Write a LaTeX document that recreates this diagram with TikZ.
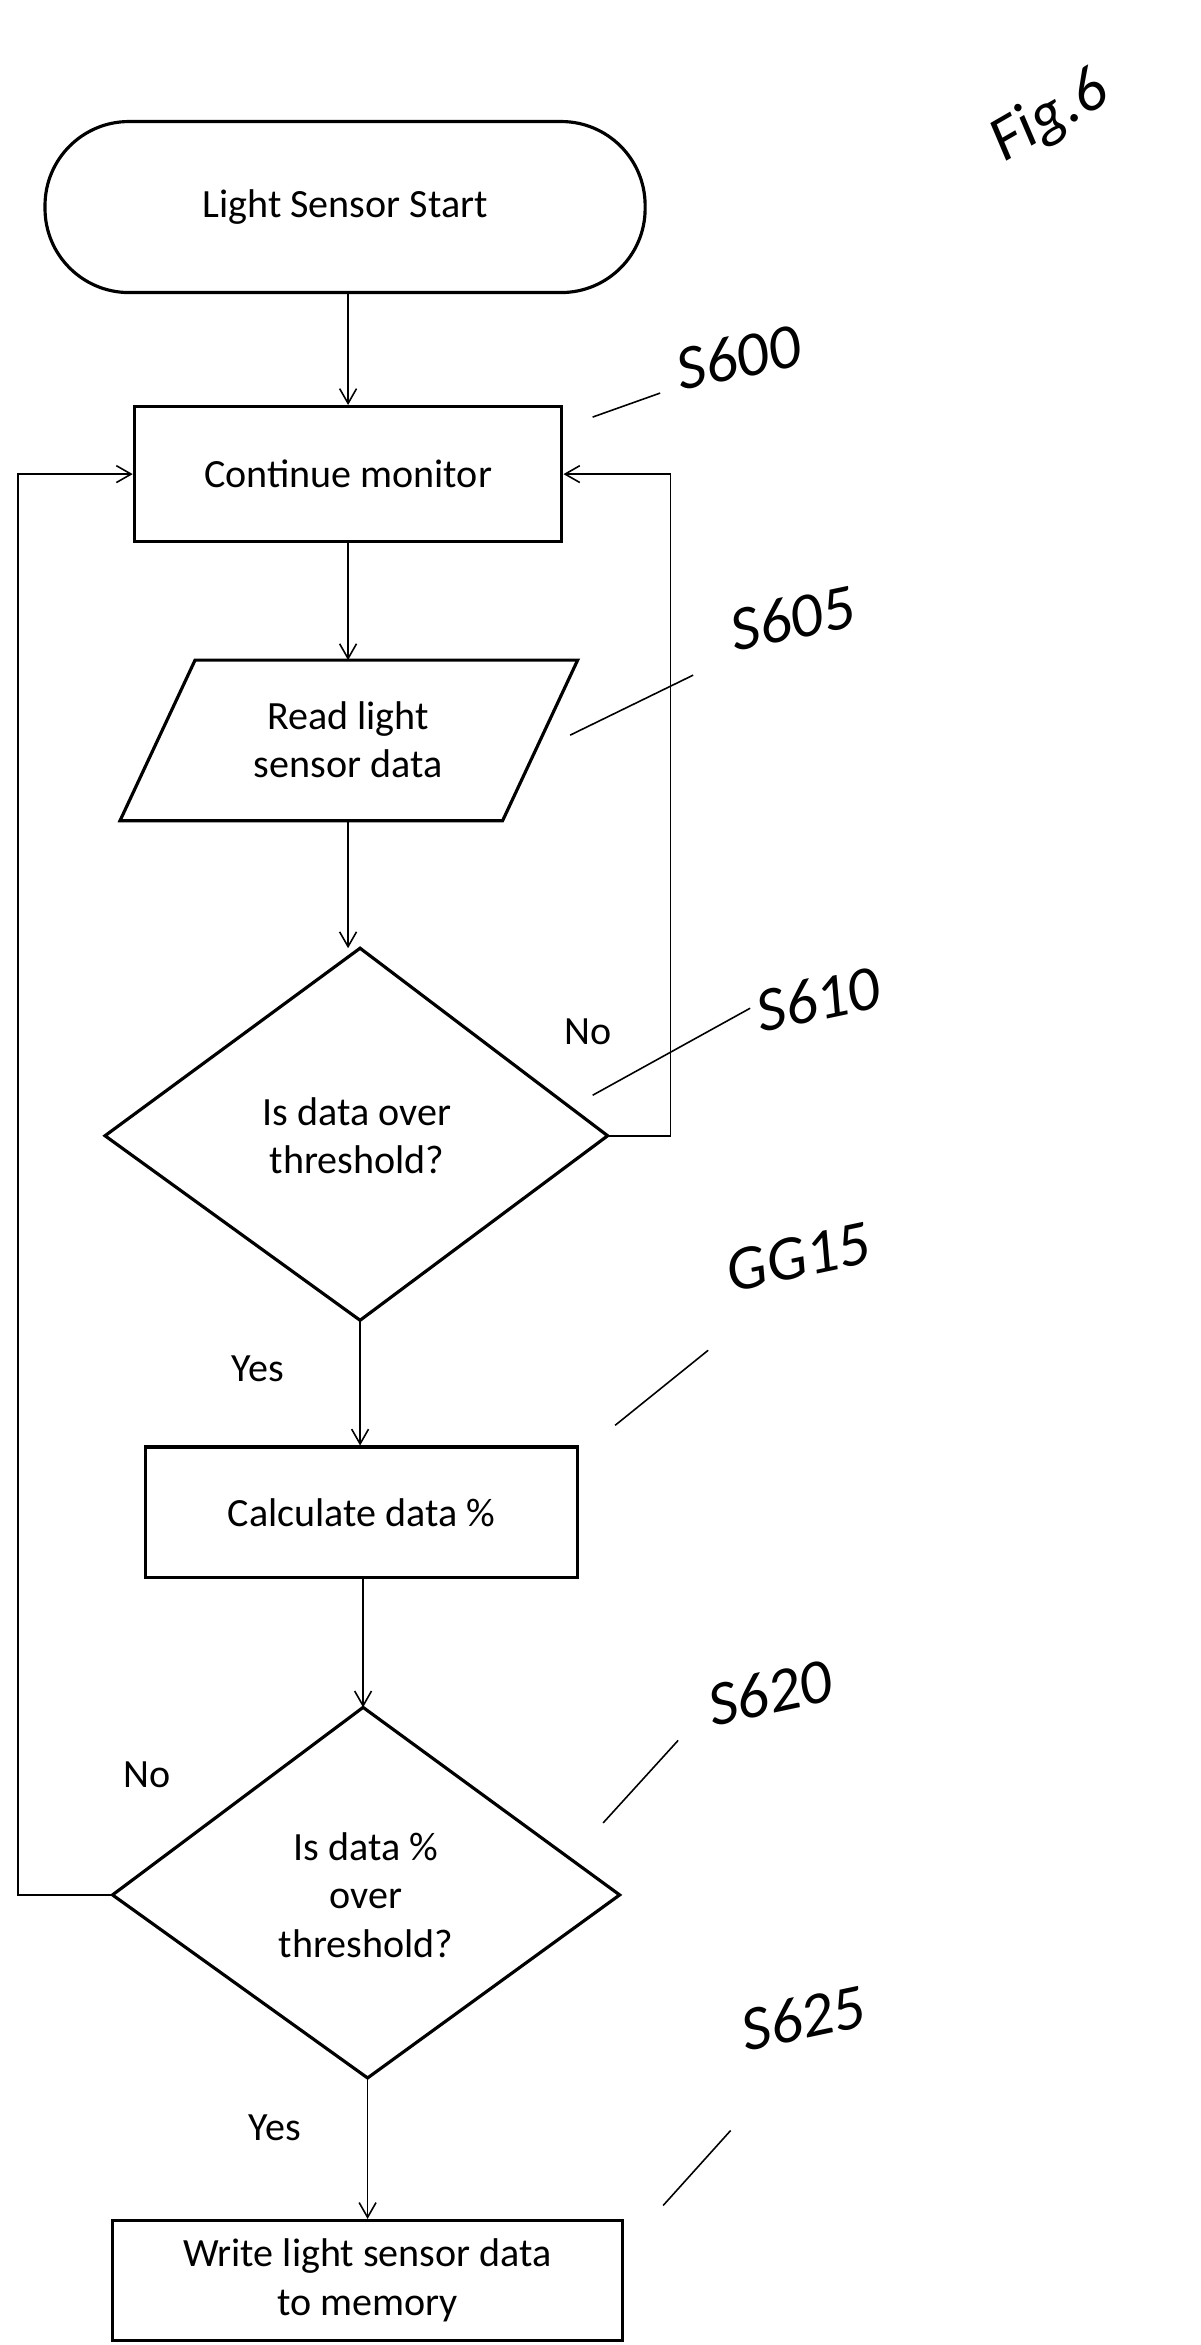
\documentclass[tikz,border=0pt]{standalone}
\usepackage{fontspec}
\setmainfont{Carlito}
\usetikzlibrary{shapes.geometric,arrows.meta}
\begin{document}
\begin{tikzpicture}[x=0.05cm,y=-0.05cm,
  txt/.style={font=\fontsize{38}{46}\selectfont,align=center},
  box/.style={draw,line width=3pt,txt},
  shp/.style={line width=3pt},
  arr/.style={-{Straight Barb[length=14pt,width=16pt]},line width=1.5pt},
  hand/.style={font=\fontsize{60}{60}\selectfont\itshape,rotate=12},
  lead/.style={line width=1.5pt}]
\useasboundingbox (0,0) rectangle (800,1563);
\node[draw,line width=3pt,rounded corners=56*0.05cm,minimum width=400*0.05cm,minimum height=114*0.05cm,txt] (start) at (230,138) {Light Sensor Start};
\node[box,minimum width=285*0.05cm,minimum height=90*0.05cm] (cont) at (232,316) {Continue monitor};
\draw[shp] (80,547) -- (130,440) -- (385,440) -- (335,547) -- cycle;
\node[txt] (read) at (232,493) {Read light\\sensor data};
\coordinate (d1t) at (240,632); \coordinate (d1l) at (70,757); \coordinate (d1r) at (405,757); \coordinate (d1b) at (240,880);
\draw[shp] (d1t) -- (d1r) -- (d1b) -- (d1l) -- cycle;
\node[txt] (d1) at (238,757) {Is data over\\threshold?};
\node[box,minimum width=288*0.05cm,minimum height=87*0.05cm] (calc) at (241,1008) {Calculate data \%};
\coordinate (d2t) at (242,1138); \coordinate (d2l) at (75,1263); \coordinate (d2r) at (413,1263); \coordinate (d2b) at (245,1385);
\draw[shp] (d2t) -- (d2r) -- (d2b) -- (d2l) -- cycle;
\node[txt] (d2) at (244,1263) {Is data \%\\over\\threshold?};
\node[box,minimum width=340*0.05cm,minimum height=80*0.05cm] (write) at (245,1520) {Write light sensor data\\to memory};
\draw[arr] (start.south -| 232,0) -- (cont.north);
\draw[arr] (cont.south) -- (232,440);
\draw[arr] (232,547) -- (d1t -| 232,0);
\draw[arr] (d1b) -- (calc.north -| d1b);
\draw[arr] (calc.south -| d2t) -- (d2t);
\draw[arr] (d2b) -- (write.north -| d2b);
\draw[arr] (d1r) -- (447,757) -- (447,316) -- (cont.east);
\draw[arr] (d2l) -- (12,1263) -- (12,316) -- (cont.west);
\node[txt] (no1) at (392,688) {No};
\node[txt] (yes1) at (172,912) {Yes};
\node[txt] (no2) at (98,1183) {No};
\node[txt] (yes2) at (183,1418) {Yes};
\node[hand,rotate=18] (fig) at (700,78) {Fig.6};
\node[hand] (l600) at (492,238) {S600};
\node[hand] (l605) at (528,412) {S605};
\node[hand] (l610) at (545,666) {S610};
\node[hand] (l615) at (532,838) {GG15};
\node[hand] (l620) at (513,1128) {S620};
\node[hand] (l625) at (535,1345) {S625};
\draw[lead] (395,278) -- (440,262);
\draw[lead] (380,490) -- (462,450);
\draw[lead] (395,730) -- (500,672);
\draw[lead] (410,950) -- (472,900);
\draw[lead] (402,1215) -- (452,1160);
\draw[lead] (442,1470) -- (487,1420);
\end{tikzpicture}
\end{document}
